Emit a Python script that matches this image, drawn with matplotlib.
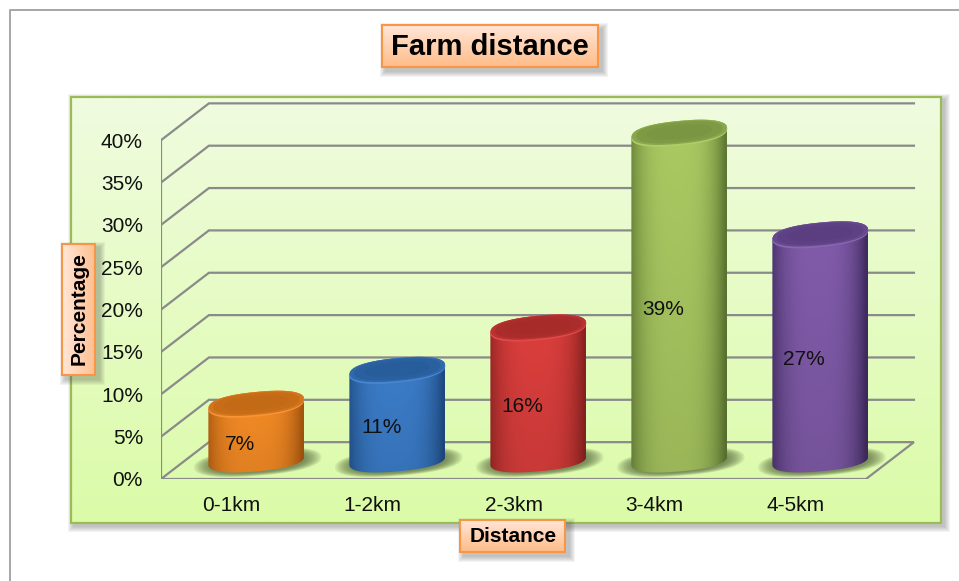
import numpy as np
import matplotlib
matplotlib.use('Agg')
import matplotlib.pyplot as plt
from matplotlib.colors import to_rgb
from matplotlib.patches import Polygon, Rectangle

plt.rcParams['font.family'] = ['Liberation Sans', 'DejaVu Sans']

# data
categories = ['0-1km', '1-2km', '2-3km', '3-4km', '4-5km']
values = [7, 11, 16, 39, 27]
value_labels = ['7%', '11%', '16%', '39%', '27%']
y_ticks = [0, 5, 10, 15, 20, 25, 30, 35, 40]
y_tick_labels = ['0%', '5%', '10%', '15%', '20%', '25%', '30%', '35%', '40%']

# bright, edge, top colour of every cylinder
bright = ['#f78d26', '#3c7ecb', '#dd3f3d', '#abca62', '#825cab']
edge = ['#a9570f', '#1f4c84', '#8c2321', '#5f7a33', '#412c62']
top = ['#c76d18', '#2a60a0', '#aa2d2b', '#7e9a44', '#5e4184']

W, H = 959, 581
depth_x = 0.34     # depth of the floor, in categories
depth_y = 4.35     # depth of the floor, in percent
half_w = 0.34
ell_h = 1.45
ell_tilt = 0.55
top_drop = 0.35    # the cap sits a bit below the value + depth position


def mix(c1, c2, t):
    c1 = np.array(to_rgb(c1))
    c2 = np.array(to_rgb(c2))
    return c1 * (1 - t) + c2 * t


def ellipse(cx, cy, t, sx=1.0, sy=1.0):
    # slightly boxy ellipse, like the bevelled tops in the original
    c = np.sign(np.cos(t)) * np.abs(np.cos(t)) ** 0.85
    s = np.sign(np.sin(t)) * np.abs(np.sin(t)) ** 0.85
    x = cx + half_w * sx * c
    y = cy + (ell_h * s + ell_tilt * c) * sy
    return x, y


def soft_shadow(a, x0, y0, x1, y1, off=4, z=1):
    for g in range(1, 7):
        a.add_patch(Rectangle((x0 + off - g, y0 + off - g), x1 - x0 + 2 * g, y1 - y0 + 2 * g,
                              fc='#404040', ec='none', alpha=0.06, zorder=z))


def grad_box(a, x0, y0, x1, y1, c_a, c_b, border, horizontal=False, z=2, lw=1.5):
    n = 64
    ramp = np.linspace(0, 1, n)[:, None]
    img = np.array([[mix(c_a, c_b, r[0])] for r in ramp])
    if horizontal:
        img = img.transpose(1, 0, 2)
    a.imshow(img, extent=(x0, x1, y1, y0), aspect='auto', zorder=z, interpolation='bilinear')
    a.add_patch(Rectangle((x0, y0), x1 - x0, y1 - y0, fc='none', ec=border, lw=lw, zorder=z + 0.1))


fig = plt.figure(figsize=(W / 100, H / 100), dpi=100)

# page furniture in pixel coordinates
bg = fig.add_axes([0, 0, 1, 1])
bg.set_axis_off()
bg.plot([10, 10, W], [H, 10, 10], color='#a6a6a6', lw=1.4, zorder=1)

soft_shadow(bg, 71, 97, 941, 523, off=3)
grad_box(bg, 71, 97, 941, 523, '#f0fcdf', '#dbfba8', '#9bbb59', lw=1.6)

soft_shadow(bg, 382, 25, 598, 67, z=3)
grad_box(bg, 382, 25, 598, 67, '#ffe6d8', '#ffbc88', '#f79646', z=4)
bg.text(490, 47, 'Farm distance', fontsize=21, fontweight='bold', ha='center', va='center', zorder=5)

soft_shadow(bg, 62, 244, 95, 375, z=3)
grad_box(bg, 62, 244, 95, 375, '#ffe6d8', '#ffc091', '#f79646', horizontal=True, z=4)
bg.text(79, 309, 'Percentage', fontsize=15, fontweight='bold', rotation=90, ha='center', va='center', zorder=5)

soft_shadow(bg, 460, 520, 565, 552, z=3)
grad_box(bg, 460, 520, 565, 552, '#ffe6d8', '#ffbc88', '#f79646', z=4)
bg.text(513, 536, 'Distance', fontsize=15, fontweight='bold', ha='center', va='center', zorder=5)

bg.set_xlim(0, W)
bg.set_ylim(H, 0)

# chart axes: x 0..5 is the front of the floor, y 0..40 the front left edge
px_x = 141.0
px_y = 8.47
x_max = 5.4
y_max = 46
left, base = 161, 479
ax = fig.add_axes([left / W, (H - base) / H, x_max * px_x / W, y_max * px_y / H])
ax.patch.set_alpha(0)
for s in ax.spines.values():
    s.set_visible(False)

line_c = '#8a8a8a'
n_cat = len(categories)
for v in y_ticks[1:]:
    ax.plot([0, depth_x, n_cat + depth_x], [v, v + depth_y, v + depth_y], color=line_c, lw=1.6, zorder=1,
            solid_joinstyle='miter')
ax.plot([0, 0], [0, y_ticks[-1]], color=line_c, lw=1.6, zorder=1)
ax.plot([0, n_cat, n_cat + depth_x, depth_x, 0], [0, 0, depth_y, depth_y, 0], color=line_c, lw=1.6, zorder=1,
        solid_joinstyle='miter')

t_all = np.linspace(0, 2 * np.pi, 160)
for i, v in enumerate(values):
    cx = i + 0.5 + depth_x / 2 + 0.006
    y0 = depth_y / 2
    y1 = v + y0 - top_drop

    # shadow on the floor
    for s in np.linspace(1.0, 0.75, 10):
        sx, sy = ellipse(cx + 0.01, y0 - 0.2, t_all, 1.33 * s, 1.1 * s)
        ax.add_patch(Polygon(np.column_stack([sx, sy]), fc='#56663a', ec='none', alpha=0.11, zorder=2))

    # body: horizontal shading, clipped to the cylinder outline
    low_x, low_y = ellipse(cx, y0, np.linspace(np.pi, 2 * np.pi, 80), 1.0, 0.88)
    up_x, up_y = ellipse(cx, y1, np.linspace(0, np.pi, 80))
    outline = Polygon(np.column_stack([np.r_[low_x, up_x], np.r_[low_y, up_y]]), closed=True,
                      fc='none', ec='none', transform=ax.transData)
    ax.add_patch(outline)

    u = np.linspace(-1, 1, 100)
    shade = np.clip(1 - np.abs((u + 0.05) / 1.02) ** 3.2, 0, 1)[:, None]
    row = mix(edge[i], bright[i], 0)[None, :] * (1 - shade) + mix(edge[i], bright[i], 1)[None, :] * shade
    darken = np.linspace(0.9, 1.0, 40)[:, None, None]
    img = row[None, :, :] * darken
    ext_top = y1 + ell_h + abs(ell_tilt) + 0.5
    ext_low = y0 - ell_h - abs(ell_tilt) - 0.5
    im = ax.imshow(img, extent=(cx - half_w, cx + half_w, ext_low, ext_top), origin='lower', aspect='auto',
                   zorder=3, interpolation='bilinear')
    im.set_clip_path(outline)

    # top: thin light rim, then a darker cap
    rx, ry = ellipse(cx, y1, t_all)
    ax.add_patch(Polygon(np.column_stack([rx, ry]), fc=mix(bright[i], '#ffffff', 0.06), ec='none', zorder=4))
    rx, ry = ellipse(cx, y1 + 0.1, t_all, 0.99, 0.93)
    ax.add_patch(Polygon(np.column_stack([rx, ry]), fc=mix(top[i], bright[i], 0.25), ec='none', zorder=4.1))
    rx, ry = ellipse(cx, y1 + 0.12, t_all, 0.9, 0.82)
    ax.add_patch(Polygon(np.column_stack([rx, ry]), fc=top[i], ec='none', zorder=4.2))
    rx, ry = ellipse(cx, y1 + 0.15, t_all, 0.68, 0.58)
    ax.add_patch(Polygon(np.column_stack([rx, ry]), fc=mix(top[i], edge[i], 0.2), ec='none', alpha=0.5,
                         zorder=4.3))

    ax.text(cx - 0.115, v / 2 + 0.55, value_labels[i], fontsize=15, ha='center', va='center', color='#101010',
            zorder=6)

ax.set_xlim(0, x_max)
ax.set_ylim(0, y_max)
ax.set_xticks(np.arange(n_cat) + 0.5)
ax.set_xticklabels(categories, fontsize=15, color='#101010')
ax.set_yticks(y_ticks)
ax.set_yticklabels(y_tick_labels, fontsize=15, color='#101010')
ax.tick_params(axis='both', length=0)
ax.tick_params(axis='x', pad=12)
ax.tick_params(axis='y', pad=13)

fig.savefig('out.png', dpi=100)
